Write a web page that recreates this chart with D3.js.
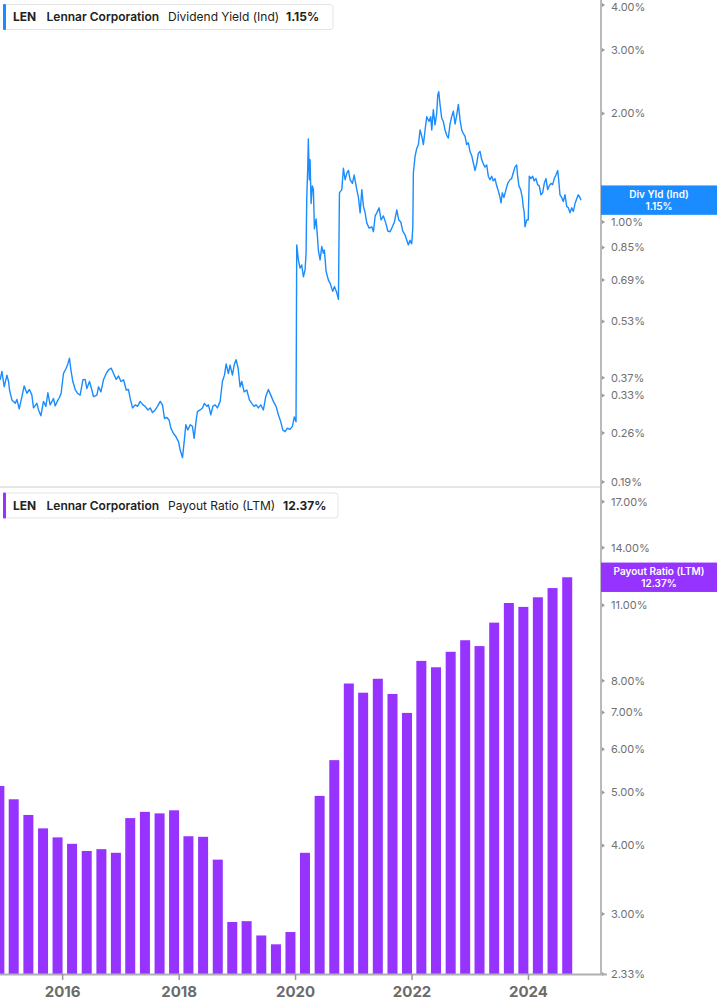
<!DOCTYPE html>
<html>
<head>
<meta charset="utf-8">
<script src="https://cdn.jsdelivr.net/npm/d3@7"></script>
<style>
  body { margin: 0; background: #fff; }
  text { font-family: Inter, "Noto Sans", sans-serif; }
</style>
</head>
<body>
<svg id="chart"></svg>
<script>
const width = 717,
      height = 1005;

const ticker = "LEN";
const company = "Lennar Corporation";

const yieldTicks = [4, 3, 2, 1, 0.85, 0.69, 0.53, 0.37, 0.33, 0.26, 0.19];
const payoutTicks = [17, 14, 11, 8, 7, 6, 5, 4, 3, 2.33];
const yearTicks = [2016, 2018, 2020, 2022, 2024];

// dividend yield (Ind), [decimal year, %]
const yieldSeries = [
  [2014.927, 0.365], [2014.956, 0.385], [2014.996, 0.349], [2015.042, 0.376], [2015.070, 0.361],
  [2015.087, 0.342], [2015.128, 0.321], [2015.185, 0.314], [2015.214, 0.322], [2015.253, 0.303],
  [2015.300, 0.328], [2015.339, 0.351], [2015.385, 0.335], [2015.430, 0.343], [2015.471, 0.331],
  [2015.499, 0.305], [2015.557, 0.314], [2015.585, 0.301], [2015.626, 0.290], [2015.670, 0.318],
  [2015.712, 0.308], [2015.746, 0.336], [2015.785, 0.311], [2015.842, 0.324], [2015.871, 0.309],
  [2015.911, 0.319], [2015.945, 0.326], [2015.974, 0.335], [2016.014, 0.380], [2016.060, 0.393],
  [2016.089, 0.404], [2016.117, 0.419], [2016.141, 0.389], [2016.175, 0.361], [2016.215, 0.343],
  [2016.254, 0.335], [2016.300, 0.331], [2016.347, 0.365], [2016.386, 0.366], [2016.415, 0.345],
  [2016.460, 0.361], [2016.501, 0.342], [2016.529, 0.328], [2016.587, 0.331], [2016.615, 0.349],
  [2016.656, 0.338], [2016.700, 0.365], [2016.747, 0.380], [2016.786, 0.389], [2016.833, 0.393],
  [2016.872, 0.380], [2016.918, 0.366], [2016.958, 0.374], [2016.999, 0.361], [2017.044, 0.365],
  [2017.090, 0.342], [2017.129, 0.343], [2017.158, 0.324], [2017.198, 0.305], [2017.245, 0.311],
  [2017.284, 0.308], [2017.330, 0.318], [2017.377, 0.311], [2017.416, 0.308], [2017.463, 0.301],
  [2017.502, 0.305], [2017.541, 0.296], [2017.588, 0.301], [2017.627, 0.308], [2017.674, 0.318],
  [2017.713, 0.311], [2017.748, 0.285], [2017.789, 0.287], [2017.828, 0.282], [2017.857, 0.268],
  [2017.902, 0.259], [2017.943, 0.254], [2017.988, 0.246], [2018.017, 0.233], [2018.057, 0.222],
  [2018.086, 0.246], [2018.115, 0.274], [2018.149, 0.265], [2018.189, 0.274], [2018.228, 0.271],
  [2018.257, 0.251], [2018.292, 0.282], [2018.314, 0.298], [2018.360, 0.301], [2018.400, 0.305],
  [2018.434, 0.314], [2018.475, 0.308], [2018.503, 0.311], [2018.544, 0.292], [2018.578, 0.308],
  [2018.618, 0.311], [2018.657, 0.305], [2018.704, 0.318], [2018.743, 0.361], [2018.778, 0.376],
  [2018.807, 0.404], [2018.846, 0.380], [2018.875, 0.401], [2018.915, 0.376], [2018.949, 0.404],
  [2018.978, 0.415], [2019.013, 0.393], [2019.047, 0.349], [2019.076, 0.361], [2019.116, 0.338],
  [2019.162, 0.342], [2019.207, 0.321], [2019.248, 0.314], [2019.287, 0.308], [2019.322, 0.311],
  [2019.361, 0.305], [2019.402, 0.311], [2019.447, 0.301], [2019.488, 0.328], [2019.533, 0.343],
  [2019.574, 0.331], [2019.619, 0.318], [2019.665, 0.308], [2019.705, 0.292], [2019.746, 0.279],
  [2019.780, 0.265], [2019.820, 0.262], [2019.859, 0.268], [2019.905, 0.266], [2019.945, 0.271],
  [2019.979, 0.288], [2020.008, 0.279], [2020.020, 0.864], [2020.048, 0.785], [2020.077, 0.745],
  [2020.106, 0.760], [2020.134, 0.705], [2020.163, 0.736], [2020.180, 0.819], [2020.192, 1.170],
  [2020.209, 1.420], [2020.219, 1.700], [2020.236, 1.310], [2020.249, 1.490], [2020.266, 1.125],
  [2020.288, 1.260], [2020.306, 1.230], [2020.323, 0.957], [2020.352, 1.020], [2020.374, 0.915],
  [2020.391, 0.836], [2020.420, 0.785], [2020.449, 0.855], [2020.477, 0.819], [2020.494, 0.836],
  [2020.523, 0.730], [2020.563, 0.690], [2020.592, 0.676], [2020.638, 0.642], [2020.666, 0.662],
  [2020.707, 0.636], [2020.735, 0.610], [2020.752, 1.205], [2020.793, 1.230], [2020.820, 1.410],
  [2020.849, 1.310], [2020.878, 1.365], [2020.906, 1.390], [2020.935, 1.310], [2020.975, 1.280],
  [2021.004, 1.350], [2021.050, 1.230], [2021.078, 1.170], [2021.107, 1.060], [2021.136, 1.230],
  [2021.164, 1.105], [2021.193, 1.060], [2021.222, 0.993], [2021.262, 0.962], [2021.308, 0.970],
  [2021.336, 0.940], [2021.365, 1.040], [2021.394, 1.060], [2021.433, 1.095], [2021.467, 1.013],
  [2021.507, 1.040], [2021.548, 0.993], [2021.583, 0.944], [2021.622, 0.940], [2021.651, 0.962],
  [2021.696, 1.000], [2021.737, 1.080], [2021.771, 1.013], [2021.806, 1.000], [2021.840, 0.944],
  [2021.880, 0.920], [2021.909, 0.890], [2021.936, 0.864], [2021.965, 0.890], [2021.994, 0.870],
  [2022.012, 0.962], [2022.022, 1.370], [2022.051, 1.520], [2022.080, 1.600], [2022.108, 1.640],
  [2022.137, 1.800], [2022.166, 1.730], [2022.194, 1.640], [2022.223, 1.800], [2022.252, 1.960],
  [2022.291, 1.900], [2022.320, 1.960], [2022.338, 1.800], [2022.365, 2.050], [2022.394, 1.860],
  [2022.423, 2.000], [2022.441, 2.250], [2022.458, 2.300], [2022.480, 2.120], [2022.509, 1.940],
  [2022.537, 1.900], [2022.566, 1.800], [2022.595, 1.740], [2022.623, 1.710], [2022.652, 1.870],
  [2022.681, 1.960], [2022.709, 2.030], [2022.738, 1.870], [2022.767, 1.980], [2022.795, 2.120],
  [2022.824, 1.920], [2022.853, 1.800], [2022.880, 1.760], [2022.909, 1.730], [2022.938, 1.640],
  [2022.966, 1.660], [2022.995, 1.570], [2023.024, 1.530], [2023.052, 1.460], [2023.081, 1.390],
  [2023.110, 1.450], [2023.138, 1.550], [2023.167, 1.570], [2023.196, 1.490], [2023.224, 1.450],
  [2023.253, 1.420], [2023.282, 1.440], [2023.310, 1.340], [2023.339, 1.310], [2023.368, 1.340],
  [2023.396, 1.300], [2023.425, 1.320], [2023.454, 1.260], [2023.482, 1.220], [2023.511, 1.170],
  [2023.528, 1.130], [2023.550, 1.205], [2023.579, 1.170], [2023.614, 1.230], [2023.643, 1.280],
  [2023.682, 1.310], [2023.711, 1.320], [2023.739, 1.370], [2023.768, 1.420], [2023.797, 1.440],
  [2023.814, 1.340], [2023.836, 1.260], [2023.866, 1.230], [2023.893, 1.170], [2023.910, 1.105],
  [2023.928, 1.060], [2023.940, 0.970], [2023.969, 1.013], [2023.996, 1.013], [2024.014, 1.340],
  [2024.043, 1.320], [2024.072, 1.340], [2024.099, 1.300], [2024.128, 1.320], [2024.157, 1.270],
  [2024.185, 1.260], [2024.214, 1.190], [2024.243, 1.205], [2024.271, 1.280], [2024.300, 1.320],
  [2024.329, 1.230], [2024.356, 1.260], [2024.386, 1.280], [2024.415, 1.270], [2024.442, 1.320],
  [2024.471, 1.350], [2024.501, 1.390], [2024.518, 1.310], [2024.540, 1.190], [2024.569, 1.170],
  [2024.597, 1.140], [2024.626, 1.190], [2024.655, 1.105], [2024.683, 1.095], [2024.712, 1.060],
  [2024.741, 1.095], [2024.769, 1.070], [2024.798, 1.125], [2024.827, 1.160], [2024.854, 1.190],
  [2024.883, 1.170], [2024.900, 1.150]
];

// payout ratio (LTM), fiscal quarter ends
const payoutQuarters = [
  "2014-11-30", "2015-02-28", "2015-05-31", "2015-08-31", "2015-11-30",
  "2016-02-29", "2016-05-31", "2016-08-31", "2016-11-30", "2017-02-28",
  "2017-05-31", "2017-08-31", "2017-11-30", "2018-02-28", "2018-05-31",
  "2018-08-31", "2018-11-30", "2019-02-28", "2019-05-31", "2019-08-31",
  "2019-11-30", "2020-02-29", "2020-05-31", "2020-08-31", "2020-11-30",
  "2021-02-28", "2021-05-31", "2021-08-31", "2021-11-30", "2022-02-28",
  "2022-05-31", "2022-08-31", "2022-11-30", "2023-02-28", "2023-05-31",
  "2023-08-31", "2023-11-30", "2024-02-29", "2024-05-31", "2024-08-31"
];
const payoutValues = [
  5.14, 4.86, 4.55, 4.30, 4.14, 4.03, 3.91, 3.94, 3.88, 4.49,
  4.61, 4.58, 4.64, 4.16, 4.15, 3.77, 2.90, 2.91, 2.74, 2.64,
  2.78, 3.88, 4.93, 5.73, 7.91, 7.61, 8.07, 7.57, 6.99, 8.70,
  8.47, 9.04, 9.49, 9.26, 10.22, 11.10, 10.92, 11.37, 11.82, 12.37
];

const lastYield = 1.15,
      lastPayout = 12.37;

const blue = "#1a8cff",
      purple = "#9633ff";

const svg = d3.select("#chart")
  .attr("width", width)
  .attr("height", height);

svg.append("rect").attr("width", width).attr("height", height).attr("fill", "#fff");

const axisX = 601;

function yearToDate(t) {
  const y = Math.floor(t);
  const a = Date.UTC(y, 0, 1), b = Date.UTC(y + 1, 0, 1);
  return new Date(a + (t - y) * (b - a));
}
const parseDate = d3.utcParse("%Y-%m-%d");

const x = d3.scaleUtc()
  .domain([new Date(Date.UTC(2014, 11, 4)), new Date(Date.UTC(2025, 2, 31))])
  .range([0, axisX]);

const yTop = d3.scaleLog().domain([0.19, 4]).range([482, 5]);
const yBot = d3.scaleLog().domain([2.33, 17]).range([974, 501.7]);

// panel separator
svg.append("line")
  .attr("x1", 0).attr("x2", axisX)
  .attr("y1", 487).attr("y2", 487)
  .attr("stroke", "#dedede").attr("stroke-width", 1.5);

// bars
const payout = payoutQuarters.map((d, i) => ({ date: parseDate(d), value: payoutValues[i] }));
svg.append("g")
  .selectAll("rect")
  .data(payout)
  .join("rect")
  .attr("x", d => x(d.date) - 5)
  .attr("width", 10)
  .attr("y", d => yBot(d.value))
  .attr("height", d => yBot(2.33) - yBot(d.value))
  .attr("fill", purple);

// yield line
const line = d3.line()
  .x(d => x(yearToDate(d[0])))
  .y(d => yTop(d[1]));

svg.append("path")
  .datum(yieldSeries)
  .attr("d", line)
  .attr("fill", "none")
  .attr("stroke", blue)
  .attr("stroke-width", 1.4)
  .attr("stroke-linejoin", "round");

// right axis
svg.append("line")
  .attr("x1", axisX).attr("x2", axisX)
  .attr("y1", 0).attr("y2", 975)
  .attr("stroke", "#bababa").attr("stroke-width", 2);

function rightTicks(scale, values) {
  const g = svg.append("g");
  values.forEach(v => {
    const yy = scale(v);
    g.append("path")
      .attr("d", `M${axisX + 1},${yy - 2}L${axisX + 4},${yy}L${axisX + 1},${yy + 2}Z`)
      .attr("fill", "#999");
    g.append("text")
      .attr("x", 611)
      .attr("y", Math.max(yy, 7))
      .attr("dy", "0.35em")
      .attr("font-size", 11)
      .attr("fill", "#707070")
      .text(v.toFixed(2) + "%");
  });
}
rightTicks(yTop, yieldTicks);
rightTicks(yBot, payoutTicks);

// bottom axis
svg.append("line")
  .attr("x1", 0).attr("x2", 607)
  .attr("y1", 974.5).attr("y2", 974.5)
  .attr("stroke", "#b0b0b0").attr("stroke-width", 2);

const xg = svg.append("g");
yearTicks.forEach(yr => {
  const xx = x(new Date(Date.UTC(yr, 0, 1)));
  xg.append("line")
    .attr("x1", xx).attr("x2", xx)
    .attr("y1", 974).attr("y2", 980)
    .attr("stroke", "#999").attr("stroke-width", 1.5);
  xg.append("text")
    .attr("x", xx)
    .attr("y", 997)
    .attr("text-anchor", "middle")
    .attr("font-family", "'Liberation Sans Narrow', 'Roboto Condensed', Roboto, sans-serif")
    .attr("font-weight", 700)
    .attr("font-size", 15)
    .attr("fill", "#6b6b6b")
    .text(yr);
});

// value callouts on the right
function callout(y0, color, label, value) {
  const g = svg.append("g");
  g.append("rect")
    .attr("x", axisX).attr("y", y0 - 14.7)
    .attr("width", width - axisX).attr("height", 29.4)
    .attr("fill", color);
  [[label, -6], [value, 6]].forEach(([t, dy]) => {
    g.append("text")
      .attr("x", 659).attr("y", y0 + dy)
      .attr("dy", "0.35em")
      .attr("text-anchor", "middle")
      .attr("font-size", 10).attr("font-weight", 600)
      .attr("fill", "#fff")
      .text(t);
  });
}
callout(yTop(lastYield), blue, "Div Yld (Ind)", lastYield.toFixed(2) + "%");
callout(yBot(lastPayout), purple, "Payout Ratio (LTM)", lastPayout.toFixed(2) + "%");

// legends
function legend(y0, w, color, metric, value, valueX) {
  const g = svg.append("g");
  g.append("rect")
    .attr("x", 3.5).attr("y", y0 + 0.5)
    .attr("width", w).attr("height", 25)
    .attr("rx", 3)
    .attr("fill", "#fff")
    .attr("stroke", "#e4e4e4");
  g.append("rect")
    .attr("x", 3).attr("y", y0)
    .attr("width", 3).attr("height", 26)
    .attr("rx", 1)
    .attr("fill", color);
  const base = y0 + 17;
  const parts = [
    { t: ticker, x: 13, w: 700 },
    { t: company, x: 46.5, w: 600 },
    { t: metric, x: 168, w: 400 },
    { t: value, x: valueX, w: 700 }
  ];
  parts.forEach(p => {
    g.append("text")
      .attr("x", p.x).attr("y", base)
      .attr("font-size", 12)
      .attr("font-weight", p.w)
      .attr("fill", "#222")
      .text(p.t);
  });
}
legend(4, 329.5, blue, "Dividend Yield (Ind)", lastYield.toFixed(2) + "%", 286);
legend(492.5, 334.5, purple, "Payout Ratio (LTM)", lastPayout.toFixed(2) + "%", 283);
</script>
</body>
</html>
